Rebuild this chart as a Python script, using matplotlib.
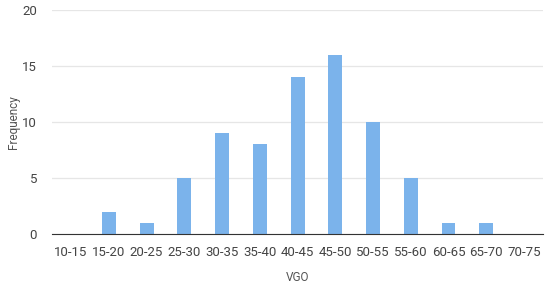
import matplotlib
matplotlib.use("Agg")
import matplotlib.pyplot as plt

plt.rcParams['font.family'] = ['Roboto', 'DejaVu Sans']

bins = ["10-15", "15-20", "20-25", "25-30", "30-35", "35-40", "40-45",
        "45-50", "50-55", "55-60", "60-65", "65-70", "70-75"]
freq = [0, 2, 1, 5, 9, 8, 14, 16, 10, 5, 1, 1, 0]

fig = plt.figure(figsize=(5.5, 2.85), dpi=100)
ax = fig.add_axes([0.095, 0.179, 0.892, 0.786])

ax.bar(range(len(bins)), freq, width=0.37, color="#7bb3eb", zorder=3)

ax.set_xlim(-0.5, len(bins) - 0.5)
ax.set_ylim(0, 20)
ax.set_yticks([0, 5, 10, 15, 20])
ax.set_xticks(range(len(bins)))
ax.set_xticklabels(bins)
ax.yaxis.grid(True, color="#e6e6e6", linewidth=0.9, zorder=0)

for s in ["top", "right", "left"]:
    ax.spines[s].set_visible(False)
ax.spines["bottom"].set_color("#333333")
ax.spines["bottom"].set_zorder(4)
ax.tick_params(axis="both", length=0, labelsize=9.5, labelcolor="#444444")
ax.tick_params(axis="x", pad=9)
ax.tick_params(axis="y", pad=11)

ax.set_xlabel("VGO", fontsize=8.5, color="#555555", labelpad=8)
ax.set_ylabel("Frequency", fontsize=8.5, color="#555555")
ax.yaxis.set_label_coords(-0.065, 0.5)

fig.savefig("out.png", dpi=100)
